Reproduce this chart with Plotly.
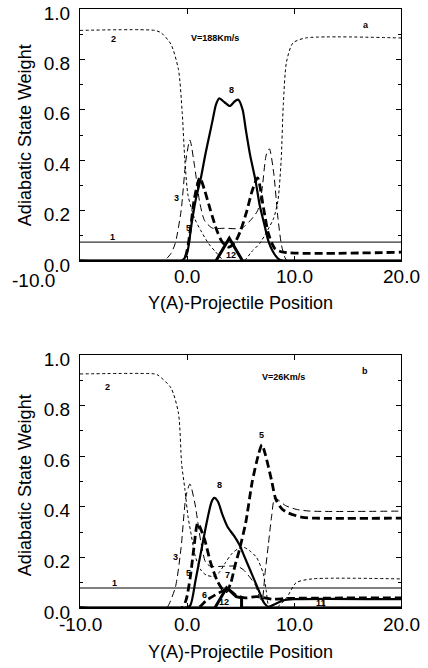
import plotly.graph_objects as go

# ---------------- data: panel a (V=188 Km/s) ----------------
a1_x = [-10, 20]
a1_y = [0.075, 0.075]

a2_x = [-10, -3.0, -2.4, -1.5, -0.8, -0.45, -0.2, 0.1, 0.7, 1.3, 2.0, 2.7, 3.5, 5.3, 6.0, 6.8, 7.5, 8.1, 8.5, 8.8, 9.0, 9.3, 9.9, 11.1, 20]
a2_y = [0.915, 0.915, 0.905, 0.86, 0.76, 0.59, 0.40, 0.26, 0.17, 0.12, 0.07, 0.035, 0.0, 0.0, 0.035, 0.07, 0.12, 0.17, 0.24, 0.40, 0.62, 0.79, 0.865, 0.885, 0.885]

a3_x = [-10, -2.2, -1.9, -1.5, -1.1, -0.55, -0.1, 0.27, 0.73, 1.2, 1.65, 2.4, 3.5, 5.1, 5.9, 6.6, 7.0, 7.4, 7.7, 8.1, 8.5, 8.9, 9.4, 20]
a3_y = [0, 0, 0.01, 0.03, 0.07, 0.2, 0.4, 0.48, 0.37, 0.23, 0.16, 0.13, 0.13, 0.13, 0.16, 0.2, 0.28, 0.42, 0.445, 0.35, 0.17, 0.05, 0.0, 0.0]

a5_x = [-10, -0.4, 0.0, 0.3, 0.7, 1.2, 1.65, 2.2, 2.8, 3.3, 3.9, 4.5, 5.0, 5.6, 6.1, 6.6, 7.15, 7.6, 8.2, 9.0, 20]
a5_y = [0, 0, 0.04, 0.12, 0.25, 0.33, 0.28, 0.2, 0.12, 0.075, 0.055, 0.075, 0.12, 0.2, 0.28, 0.33, 0.21, 0.11, 0.05, 0.035, 0.035]

a8_x = [-10, -0.5, 0.0, 0.4, 0.8, 1.3, 1.7, 2.1, 2.4, 2.7, 3.0, 3.5, 4.0, 4.5, 4.8, 5.2, 5.5, 5.9, 6.4, 6.8, 7.2, 7.6, 8.0, 8.5, 9.0, 20]
a8_y = [0, 0, 0.03, 0.14, 0.24, 0.33, 0.42, 0.5, 0.56, 0.62, 0.645, 0.63, 0.615, 0.635, 0.64, 0.6, 0.52, 0.42, 0.32, 0.22, 0.15, 0.08, 0.04, 0.01, 0.0, 0.0]

a12_x = [-10, 2.7, 3.95, 5.2, 20]
a12_y = [0, 0, 0.09, 0, 0]

# ---------------- data: panel b (V=26 Km/s) ----------------
b1_x = [-10, 20]
b1_y = [0.079, 0.079]

b2_x = [-10, -3.0, -2.7, -1.5, -0.8, -0.5, -0.2, 0.1, 0.35, 0.8, 1.3, 1.8, 2.4, 3.0, 3.6, 4.2, 4.8, 5.3, 5.9, 6.5, 7.1, 7.4, 7.7, 8.3, 9.3, 10.2, 11.7, 20]
b2_y = [0.925, 0.925, 0.92, 0.87, 0.77, 0.57, 0.47, 0.36, 0.3, 0.2, 0.15, 0.13, 0.125, 0.14, 0.18, 0.215, 0.235, 0.24, 0.225, 0.2, 0.14, 0.07, 0.0, 0.0, 0.04, 0.1, 0.115, 0.115]

b3_x = [-10, -2.2, -1.9, -1.1, -0.55, -0.1, 0.27, 0.73, 1.3, 1.75, 2.2, 3.5, 4.7, 5.3, 5.9, 6.4, 6.8, 7.0, 7.3, 7.6, 7.9, 8.2, 8.6, 9.2, 10.2, 11.5, 20]
b3_y = [0, 0, 0.0, 0.08, 0.24, 0.44, 0.49, 0.415, 0.26, 0.18, 0.165, 0.165, 0.165, 0.15, 0.12, 0.09, 0.04, 0.03, 0.14, 0.25, 0.36, 0.435, 0.425, 0.405, 0.39, 0.383, 0.383]

b5_x = [-10, -0.5, -0.1, 0.3, 0.65, 1.0, 1.65, 2.2, 2.8, 3.3, 3.7, 4.1, 4.5, 4.9, 5.5, 6.1, 6.7, 7.0, 7.3, 7.9, 8.3, 8.9, 9.5, 10.8, 12, 20]
b5_y = [0, 0, 0.03, 0.12, 0.24, 0.335, 0.27, 0.18, 0.11, 0.075, 0.065, 0.1, 0.17, 0.23, 0.34, 0.5, 0.61, 0.645, 0.61, 0.505, 0.43, 0.39, 0.375, 0.358, 0.355, 0.355]

b8_x = [-10, -0.2, 0.3, 0.8, 1.3, 1.9, 2.3, 2.55, 2.9, 3.3, 3.8, 4.4, 4.9, 5.4, 5.8, 6.3, 6.8, 7.2, 7.6, 8.2, 9.0, 10.0, 20]
b8_y = [0, 0, 0.01, 0.11, 0.22, 0.35, 0.42, 0.435, 0.42, 0.37, 0.32, 0.285, 0.25, 0.2, 0.16, 0.11, 0.06, 0.02, 0.005, 0.015, 0.03, 0.035, 0.035]

b6_x = [-10, 1.0, 1.8, 3.0, 3.8, 4.6, 5.5, 6.5, 8.0, 9.5, 20]
b6_y = [0, 0, 0.03, 0.06, 0.075, 0.05, 0.04, 0.045, 0.035, 0.038, 0.04]

b12_x = [-10, 2.6, 3.7, 4.6, 5.1, 5.1, 20]
b12_y = [0, 0, 0.08, 0.045, 0.04, 0, 0]

b11_x = [-10, 12.8, 12.8, 20]
b11_y = [0, 0, 0.035, 0.035]

x_ticks = [-10, 0, 10, 20]
x_ticktext = ["-10.0", "0.0", "10.0", "20.0"]
y_ticks = [0, 0.2, 0.4, 0.6, 0.8, 1.0]

# curve labels (text, x, y)
a_labels = [("2", -6.9, 0.882), ("V=188Km/s", 2.6, 0.885), ("a", 16.7, 0.937), ("8", 4.2, 0.677),
            ("3", -1.0, 0.252), ("5", 0.1, 0.13), ("1", -6.97, 0.094), ("12", 4.1, 0.024)]
b_labels = [("2", -7.4, 0.875), ("V=26Km/s", 9.0, 0.913), ("b", 16.6, 0.935), ("8", 3.0, 0.485),
            ("5", 7.0, 0.685), ("3", -1.1, 0.2), ("5", 0.1, 0.14), ("1", -6.8, 0.1),
            ("6", 1.6, 0.05), ("7", 3.76, 0.13), ("12", 3.5, 0.022), ("11", 12.5, 0.018)]

# ---------------- styles ----------------
THIN_SOLID = dict(color="black", width=1)
SHORT_DASH = dict(color="black", width=1, dash="3px,2.5px")
LONG_DASH = dict(color="black", width=1, dash="7px,4px")
THICK_DASH = dict(color="black", width=2.8, dash="8px,4px")
MED_SOLID = dict(color="black", width=2.2)
THICK_SOLID = dict(color="black", width=3)

fig = go.Figure()

def add(x, y, line, xa, ya, shape="spline"):
    ln = dict(**line, shape=shape)
    if shape == "spline":
        ln["smoothing"] = 0.7
    fig.add_trace(go.Scatter(x=x, y=y, mode="lines", line=ln,
                             xaxis=xa, yaxis=ya, showlegend=False, hoverinfo="skip"))

# panel a (top) -> x / y
add(a1_x, a1_y, THIN_SOLID, "x", "y", "linear")
add(a2_x, a2_y, SHORT_DASH, "x", "y")
add(a3_x, a3_y, LONG_DASH, "x", "y")
add(a5_x, a5_y, THICK_DASH, "x", "y")
add(a8_x, a8_y, MED_SOLID, "x", "y")
add(a12_x, a12_y, THICK_SOLID, "x", "y", "linear")

# panel b (bottom) -> x2 / y2
add(b1_x, b1_y, THIN_SOLID, "x2", "y2", "linear")
add(b2_x, b2_y, SHORT_DASH, "x2", "y2")
add(b3_x, b3_y, LONG_DASH, "x2", "y2")
add(b5_x, b5_y, THICK_DASH, "x2", "y2")
add(b8_x, b8_y, MED_SOLID, "x2", "y2")
add(b6_x, b6_y, THICK_DASH, "x2", "y2")
add(b12_x, b12_y, THICK_SOLID, "x2", "y2", "linear")
add(b11_x, b11_y, THIN_SOLID, "x2", "y2", "linear")

TICKFONT = dict(family="Liberation Sans, Arial, sans-serif", size=19, color="black")
axis_common = dict(showline=True, linecolor="black", linewidth=1, mirror="ticks", ticks="inside",
                   ticklen=5, tickcolor="black", showgrid=False, zeroline=False, tickfont=TICKFONT,
                   automargin=False)
yminor = dict(dtick=0.1, ticks="inside", ticklen=3, tickcolor="black")
ycommon = dict(range=[0, 1], tickvals=y_ticks, tickformat=".1f", ticklabelstandoff=5,
               ticklabelshift=4, ticklabeloverflow="allow", minor=yminor, **axis_common)

fig.update_layout(
    width=428, height=668,
    margin=dict(l=80, r=27, t=9, b=60),
    paper_bgcolor="white", plot_bgcolor="white",
    xaxis=dict(domain=[0, 1], range=[-10, 20], anchor="y", tickvals=x_ticks,
               showticklabels=False, **axis_common),
    yaxis=dict(domain=[0.5793, 1], anchor="x", **ycommon),
    xaxis2=dict(domain=[0, 1], range=[-10, 20], anchor="y2", tickvals=x_ticks,
                showticklabels=False, **axis_common),
    yaxis2=dict(domain=[0, 0.4224], anchor="x2", **ycommon),
)

# thick baseline at y=0 in each panel (curves sitting on zero)
for xref, yref in [("x domain", "y"), ("x2 domain", "y2")]:
    fig.add_shape(type="line", xref=xref, yref=yref,
                  x0=0, x1=1, y0=0, y1=0, line=dict(color="black", width=2.5))

# x tick labels (placed as in the original scan; top "-10.0" is displaced left)
for v, t in zip(x_ticks, x_ticktext):
    if v == -10:
        fig.add_annotation(text=t, x=-0.146, y=0.547, xref="paper", yref="paper",
                           showarrow=False, font=TICKFONT, xanchor="center", yanchor="middle")
    else:
        fig.add_annotation(text=t, x=v, y=0.5526, xref="x", yref="paper",
                           showarrow=False, font=TICKFONT, xanchor="center", yanchor="middle")
    fig.add_annotation(text=t, x=v, y=-0.028, xref="x2", yref="paper",
                       showarrow=False, font=TICKFONT, xanchor="center", yanchor="middle")

LABFONT = dict(family="Liberation Sans, Arial, sans-serif", size=9, color="black", weight="bold")
for t, x, y in a_labels:
    fig.add_annotation(text=t, x=x, y=y, xref="x", yref="y", showarrow=False, font=LABFONT,
                       xanchor="center", yanchor="middle")
for t, x, y in b_labels:
    fig.add_annotation(text=t, x=x, y=y, xref="x2", yref="y2", showarrow=False, font=LABFONT,
                       xanchor="center", yanchor="middle")

TITLEFONT = dict(family="Liberation Sans, Arial, sans-serif", size=18, color="black")
titles = [
    ("Adiabatic State Weight", -0.171, 0.7896, -90),
    ("Adiabatic State Weight", -0.171, 0.2053, -90),
    ("Y(A)-Projectile Position", 0.5, 0.5092, 0),
    ("Y(A)-Projectile Position", 0.5, -0.0735, 0),
]
for t, x, y, ang in titles:
    fig.add_annotation(text=t, x=x, y=y, xref="paper", yref="paper", textangle=ang,
                       showarrow=False, font=TITLEFONT, xanchor="center", yanchor="middle")

fig.write_html("out.html")
